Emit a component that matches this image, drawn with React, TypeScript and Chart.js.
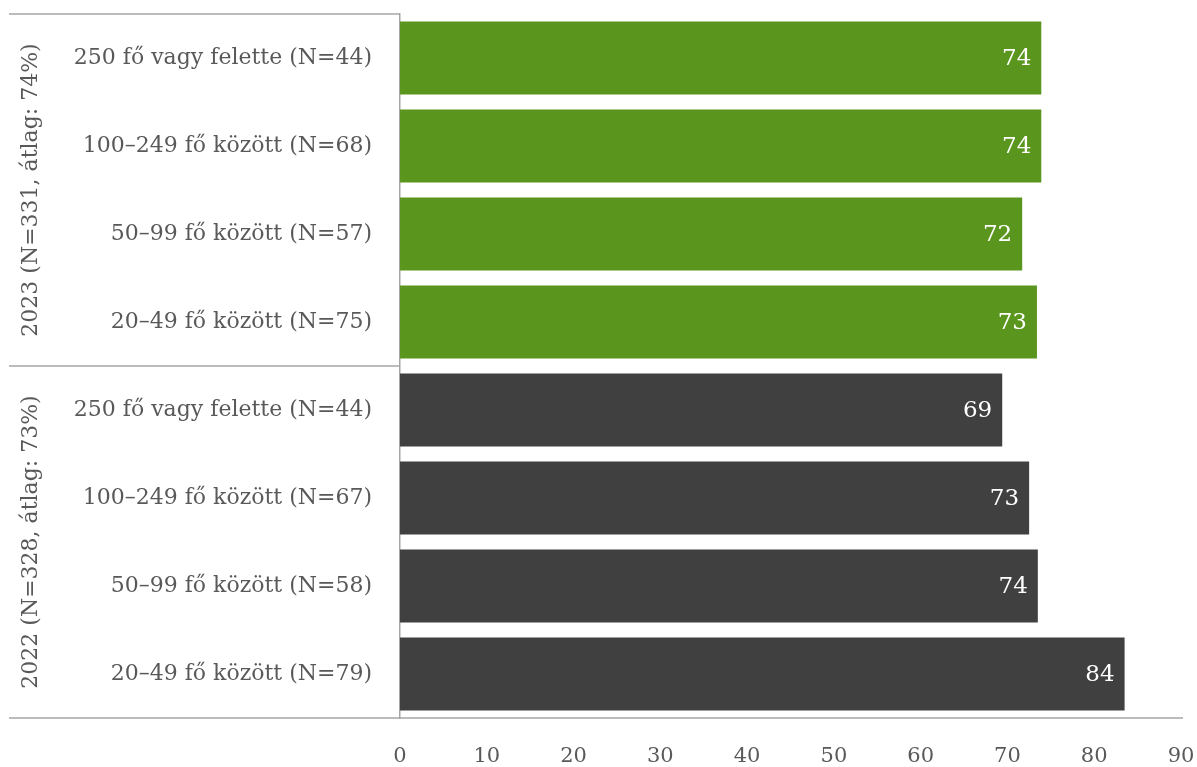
import React, { useEffect, useRef } from "react";
import { Chart, registerables } from "chart.js";

Chart.register(...registerables);

const categories = [
  "250 fő vagy felette (N=44)",
  "100–249 fő között (N=68)",
  "50–99 fő között (N=57)",
  "20–49 fő között (N=75)",
  "250 fő vagy felette (N=44)",
  "100–249 fő között (N=67)",
  "50–99 fő között (N=58)",
  "20–49 fő között (N=79)",
];
const values = [73.9, 73.9, 71.7, 73.4, 69.4, 72.5, 73.5, 83.5];
const barColors = [
  "#5a961e", "#5a961e", "#5a961e", "#5a961e",
  "#404040", "#404040", "#404040", "#404040",
];
const groupLabels = ["2023 (N=331, átlag: 74%)", "2022 (N=328, átlag: 73%)"];
const groupSizes = [4, 4];
const xMin = 0;
const xMax = 90;
const xStep = 10;

const FONT = "'DejaVu Serif', serif";
const TEXT = "#595959";
const LINE = "#a6a6a6";

const decorPlugin = {
  id: "decor",
  afterDatasetsDraw(chart: any) {
    const { ctx, chartArea } = chart;
    const meta = chart.getDatasetMeta(0);
    ctx.save();
    ctx.font = `23px ${FONT}`;
    ctx.fillStyle = "#ffffff";
    ctx.textAlign = "right";
    ctx.textBaseline = "middle";
    meta.data.forEach((bar: any, i: number) => {
      ctx.fillText(String(Math.round(values[i])), bar.x - 10, bar.y + 1);
    });
    const step = (chartArea.bottom - chartArea.top) / categories.length;
    ctx.strokeStyle = LINE;
    ctx.lineWidth = 1.5;
    let idx = 0;
    groupSizes.forEach((n, g) => {
      const top = chartArea.top + idx * step;
      const bottom = top + n * step;
      ctx.beginPath();
      ctx.moveTo(9, top);
      ctx.lineTo(chartArea.left, top);
      ctx.stroke();
      ctx.save();
      ctx.translate(31, (top + bottom) / 2);
      ctx.rotate(-Math.PI / 2);
      ctx.font = `22px ${FONT}`;
      ctx.fillStyle = TEXT;
      ctx.textAlign = "center";
      ctx.textBaseline = "middle";
      ctx.fillText(groupLabels[g], 0, 0);
      ctx.restore();
      idx += n;
    });
    ctx.beginPath();
    ctx.moveTo(9, chartArea.bottom);
    ctx.lineTo(chartArea.right + 2, chartArea.bottom);
    ctx.stroke();
    ctx.restore();
  },
};

export default function App() {
  const ref = useRef<HTMLCanvasElement>(null);
  useEffect(() => {
    document.body.style.margin = "0";
    const chart = new Chart(ref.current!, {
      type: "bar",
      data: {
        labels: categories,
        datasets: [
          {
            data: values,
            backgroundColor: barColors,
            barPercentage: 0.83,
            categoryPercentage: 1,
          },
        ],
      },
      options: {
        indexAxis: "y",
        animation: false,
        responsive: false,
        maintainAspectRatio: false,
        layout: { padding: { top: 14, right: 16, left: 0, bottom: 0 } },
        plugins: { legend: { display: false }, tooltip: { enabled: false } },
        scales: {
          x: {
            min: xMin,
            max: xMax,
            ticks: {
              stepSize: xStep,
              color: TEXT,
              font: { family: FONT, size: 21 },
              padding: 26,
              maxRotation: 0,
            },
            grid: { display: false, drawTicks: false },
            border: { display: false },
            afterFit: (s: any) => {
              s.height = 49;
              s.paddingLeft = 0;
              s.paddingRight = 0;
            },
          },
          y: {
            ticks: {
              color: TEXT,
              font: { family: FONT, size: 22 },
              padding: 28,
            },
            grid: { display: false, drawTicks: false },
            border: { display: true, color: LINE, width: 1.5 },
            afterFit: (s: any) => {
              s.width = 400;
              s.paddingTop = 0;
              s.paddingBottom = 0;
            },
          },
        },
      },
      plugins: [decorPlugin],
    });
    return () => chart.destroy();
  }, []);
  return (
    <div style={{ width: 1197, height: 767 }}>
      <canvas ref={ref} width={1197} height={767} />
    </div>
  );
}
